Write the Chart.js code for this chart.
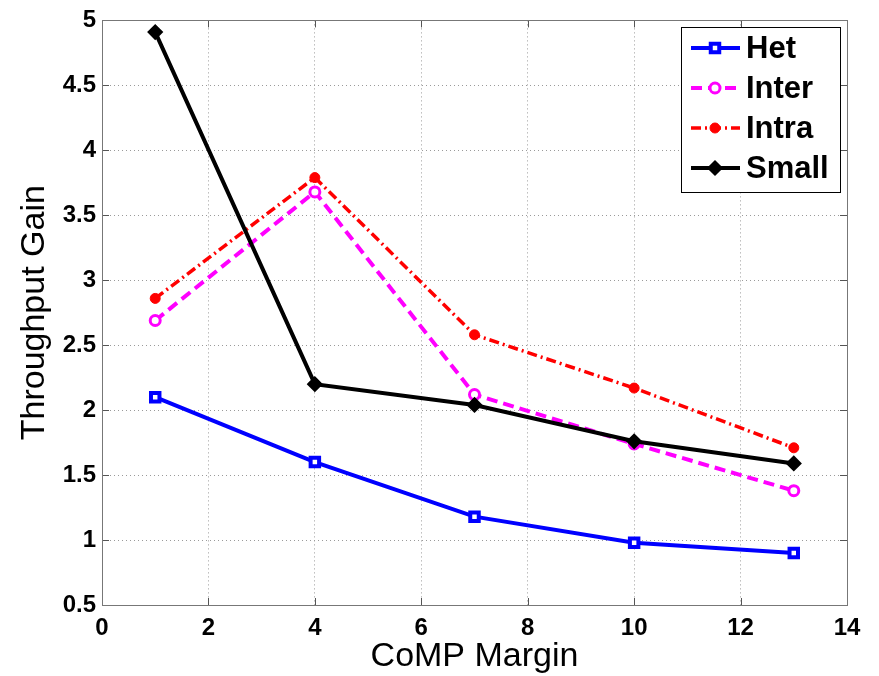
<!DOCTYPE html>
<html lang="en">
<head>
  <meta charset="UTF-8" />
  <title>Throughput Gain vs CoMP Margin</title>
  <script src="https://cdn.jsdelivr.net/npm/chart.js"></script>
  <style>
    html, body { margin: 0; padding: 0; background: #fff; }
    #wrap { width: 879px; height: 676px; }
  </style>
</head>
<body>
  <div id="wrap"><canvas id="gainChart" width="879" height="676"></canvas></div>
  <script>
    // values
    const margins = [1, 4, 7, 10, 13];
    const het   = [2.10, 1.60, 1.18, 0.98, 0.90];
    const inter = [2.69, 3.68, 2.12, 1.74, 1.38];
    const intra = [2.86, 3.79, 2.58, 2.17, 1.71];
    const small = [4.91, 2.20, 2.04, 1.76, 1.59];
    const xTicks = [0, 2, 4, 6, 8, 10, 12, 14];
    const yTicks = [0.5, 1, 1.5, 2, 2.5, 3, 3.5, 4, 4.5, 5];

    const pts = vals => margins.map((m, i) => ({ x: m, y: vals[i] }));
    const FONT = '"Liberation Sans", Arial, sans-serif';

    // matlab-style box, inward ticks and a legend inside the axes
    const matlabBox = {
      id: 'matlabBox',
      beforeDatasetsDraw(chart) {
        const { ctx, chartArea: a, scales: { x, y } } = chart;
        ctx.save();
        ctx.strokeStyle = '#555';
        ctx.lineWidth = 1;
        ctx.beginPath();
        xTicks.forEach(v => {
          const px = Math.round(x.getPixelForValue(v)) + 0.5;
          ctx.moveTo(px, a.bottom); ctx.lineTo(px, a.bottom - 7);
          ctx.moveTo(px, a.top); ctx.lineTo(px, a.top + 7);
        });
        yTicks.forEach(v => {
          const py = Math.round(y.getPixelForValue(v)) + 0.5;
          ctx.moveTo(a.left, py); ctx.lineTo(a.left + 7, py);
          ctx.moveTo(a.right, py); ctx.lineTo(a.right - 7, py);
        });
        ctx.stroke();
        ctx.strokeStyle = '#777';
        ctx.strokeRect(Math.round(a.left) + 0.5, Math.round(a.top) + 0.5,
          Math.round(a.right - a.left), Math.round(a.bottom - a.top));
        ctx.restore();
      },
      afterDatasetsDraw(chart) {
        const { ctx } = chart;
        const bx = 681, by = 27, bw = 159, bh = 165;
        ctx.save();
        ctx.fillStyle = '#fff';
        ctx.fillRect(bx, by, bw, bh);
        ctx.strokeStyle = '#000';
        ctx.lineWidth = 1;
        ctx.strokeRect(bx + 0.5, by + 0.5, bw, bh);
        chart.data.datasets.forEach((ds, i) => {
          const cy = 48 + i * 40;
          ctx.save();
          ctx.strokeStyle = ds.borderColor;
          ctx.lineWidth = ds.borderWidth;
          ctx.setLineDash(ds.borderDash || []);
          ctx.beginPath();
          ctx.moveTo(691, cy); ctx.lineTo(740, cy);
          ctx.stroke();
          ctx.setLineDash([]);
          ctx.fillStyle = ds.pointBackgroundColor;
          ctx.strokeStyle = ds.pointBorderColor;
          ctx.lineWidth = ds.pointBorderWidth;
          Chart.helpers.drawPoint(ctx, {
            pointStyle: ds.pointStyle,
            radius: ds.pointRadius,
            borderWidth: ds.pointBorderWidth,
            rotation: 0
          }, 715, cy);
          ctx.restore();
          ctx.fillStyle = '#000';
          ctx.font = 'bold 31px ' + FONT;
          ctx.textBaseline = 'middle';
          ctx.fillText(ds.label, 746, cy + 1);
        });
        ctx.restore();
      }
    };

    const ctx = document.getElementById('gainChart').getContext('2d');
    new Chart(ctx, {
      type: 'line',
      data: {
        datasets: [
          {
            label: 'Het', data: pts(het), order: 3,
            borderColor: '#0000ff', borderWidth: 4,
            pointStyle: 'rect', pointRadius: 6, pointBorderWidth: 4,
            pointBackgroundColor: '#ffffff', pointBorderColor: '#0000ff'
          },
          {
            label: 'Inter', data: pts(inter), order: 2,
            borderColor: '#ff00ff', borderWidth: 4, borderDash: [11, 6],
            pointStyle: 'circle', pointRadius: 5, pointBorderWidth: 3,
            pointBackgroundColor: '#ffffff', pointBorderColor: '#ff00ff'
          },
          {
            label: 'Intra', data: pts(intra), order: 1,
            borderColor: '#ff0000', borderWidth: 3.5, borderDash: [10, 4, 2, 4],
            pointStyle: 'circle', pointRadius: 5, pointBorderWidth: 1,
            pointBackgroundColor: '#ff0000', pointBorderColor: '#ff0000'
          },
          {
            label: 'Small', data: pts(small), order: 0,
            borderColor: '#000000', borderWidth: 4,
            pointStyle: 'rectRot', pointRadius: 6, pointBorderWidth: 3,
            pointBackgroundColor: '#000000', pointBorderColor: '#000000'
          }
        ]
      },
      options: {
        responsive: false,
        animation: false,
        layout: { padding: { top: 17, right: 32, left: 0, bottom: 0 } },
        plugins: {
          legend: { display: false },
          tooltip: { enabled: false }
        },
        elements: { line: { tension: 0, fill: false } },
        scales: {
          x: {
            type: 'linear', min: 0, max: 14,
            afterBuildTicks: s => { s.ticks = xTicks.map(v => ({ value: v })); },
            afterFit: s => { s.height = 71; },
            grid: { color: '#9a9a9a', lineWidth: 1, drawTicks: false },
            border: { display: false, dash: [1, 3] },
            ticks: {
              padding: 9, color: '#000',
              callback: v => String(v),
              font: { family: FONT, size: 24, weight: 'bold' }
            },
            title: {
              display: true, text: 'CoMP Margin', color: '#000',
              font: { family: FONT, size: 34, lineHeight: 1 },
              padding: { top: 0, bottom: 2 }
            }
          },
          y: {
            type: 'linear', min: 0.5, max: 5,
            afterBuildTicks: s => { s.ticks = yTicks.map(v => ({ value: v })); },
            afterFit: s => { s.width = 102; },
            grid: { color: '#9a9a9a', lineWidth: 1, drawTicks: false },
            border: { display: false, dash: [1, 3] },
            ticks: {
              padding: 6, color: '#000',
              callback: v => String(v),
              font: { family: FONT, size: 24, weight: 'bold' }
            },
            title: {
              display: true, text: 'Throughput Gain', color: '#000',
              font: { family: FONT, size: 34, lineHeight: 1.2 },
              padding: { top: 14, bottom: 0 }
            }
          }
        }
      },
      plugins: [matlabBox]
    });
  </script>
</body>
</html>
